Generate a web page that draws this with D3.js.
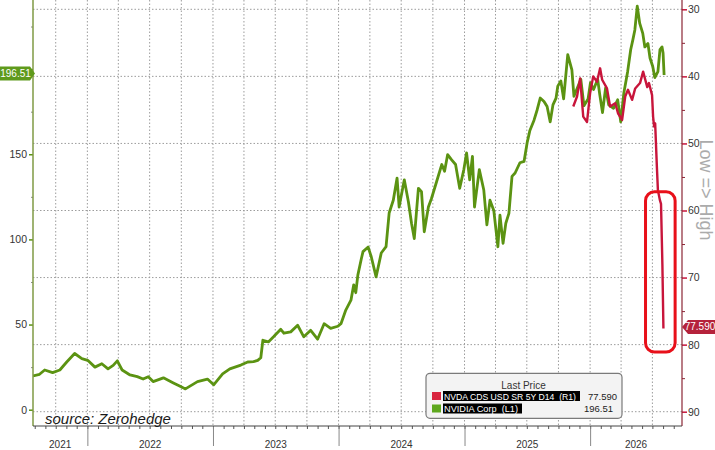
<!DOCTYPE html>
<html><head><meta charset="utf-8">
<script src="https://cdn.jsdelivr.net/npm/d3@7"></script>
<style>
body{margin:0;background:#fff}
svg{display:block}
text{font-family:"Liberation Sans",Arial,sans-serif}
</style>
</head><body>
<svg id="c" width="715" height="450"></svg>
<script>
// ---- data ----
const nvdaPrice = [
["2021-07-27",19.8],["2021-08-15",20.8],["2021-08-30",23.3],["2021-09-22",21.8],["2021-10-13",23.3],
["2021-11-02",28],["2021-11-25",33],["2021-12-16",30],["2022-01-02",29],["2022-01-23",25],
["2022-02-12",27],["2022-03-02",24],["2022-03-17",26],["2022-03-29",28.7],["2022-04-12",23.3],
["2022-05-05",20.4],["2022-05-26",19.4],["2022-06-12",18],["2022-06-27",19.4],["2022-07-11",16.5],
["2022-08-10",18.7],["2022-09-08",15.7],["2022-09-29",13.6],["2022-10-13",12.2],["2022-11-17",16.5],
["2022-12-16",18],["2023-01-03",14.6],["2023-01-29",21],["2023-02-19",24],["2023-03-23",26.2],
["2023-04-12",28],["2023-04-29",28.2],["2023-05-11",29],["2023-05-20",30.5],["2023-05-26",40.8],
["2023-06-11",39.8],["2023-06-26",42.8],["2023-07-17",47.2],["2023-07-26",44.9],["2023-08-15",45.7],
["2023-09-04",49.6],["2023-09-22",42.8],["2023-10-12",46.6],["2023-11-01",41.4],["2023-11-20",50.5],
["2023-12-09",47.8],["2023-12-30",49],["2024-01-08",50.5],["2024-01-22",58.5],["2024-02-06",64.3],
["2024-02-14",73.3],["2024-02-20",68.7],["2024-02-26",79],["2024-03-07",88.5],["2024-03-12",92.8],
["2024-03-27",95.5],["2024-04-05",89.8],["2024-04-19",78],["2024-05-04",92],["2024-05-18",95.7],
["2024-05-27",115.5],["2024-06-08",123],["2024-06-19",136],["2024-06-25",119],["2024-07-10",135],
["2024-07-22",122],["2024-07-31",109.5],["2024-08-08",100.5],["2024-08-20",130],["2024-08-29",128],
["2024-09-06",104.5],["2024-09-18",119],["2024-09-27",124],["2024-10-12",134],["2024-10-27",144],
["2024-11-04",140],["2024-11-13",149.8],["2024-11-24",146.8],["2024-12-06",144],["2024-12-18",130],
["2024-12-30",141],["2025-01-07",150.8],["2025-01-16",135],["2025-01-24",148.8],["2025-01-30",119],
["2025-02-13",141],["2025-02-26",129],["2025-03-07",108.5],["2025-03-16",123],["2025-03-27",117],
["2025-04-08",95.7],["2025-04-14",114.3],["2025-04-23",97.7],["2025-05-01",109.5],["2025-05-10",115.3],
["2025-05-19",137],["2025-05-28",139],["2025-06-11",145],["2025-06-23",145.8],["2025-07-02",156.8],
["2025-07-10",164],["2025-07-22",170],["2025-07-31",176],["2025-08-09",183],["2025-08-20",181],
["2025-08-29",178],["2025-09-07",169],["2025-09-15",179],["2025-09-24",183],["2025-09-29",190],
["2025-10-08",193],["2025-10-16",182.5],["2025-10-28",208.5],["2025-11-09",199.5],["2025-11-15",184],
["2025-11-26",189.5],["2025-12-05",194],["2025-12-14",178.5],["2025-12-26",182.5],["2026-01-02",192],
["2026-01-11",188],["2026-01-23",194],["2026-01-29",185],["2026-02-06",174.5],["2026-02-15",189],
["2026-02-24",179],["2026-03-10",177],["2026-03-22",182],["2026-03-31",169],["2026-04-09",186],
["2026-04-20",198.5],["2026-04-29",211.5],["2026-05-05",217],["2026-05-11",223],["2026-05-18",237],
["2026-05-25",227],["2026-06-03",221],["2026-06-09",213],["2026-06-18",215],["2026-06-24",206.5],
["2026-07-02",201.5],["2026-07-08",195],["2026-07-17",198.5],["2026-07-23",211.5],["2026-07-29",213],
["2026-08-01",209.5],["2026-08-04",196.51]
];
const nvdaCds = [
["2025-11-13",44.5],["2025-11-24",43],["2025-12-03",40.3],["2025-12-12",46],["2025-12-23",46.8],
["2026-01-01",42.5],["2026-01-10",40],["2026-01-21",40.8],["2026-01-30",38.8],["2026-02-05",40.5],
["2026-02-19",41.8],["2026-02-28",44.5],["2026-03-15",44],["2026-03-23",45.5],["2026-04-04",46.5],
["2026-04-13",43],["2026-04-21",42],["2026-05-03",43.5],["2026-05-12",41.8],["2026-05-26",41],
["2026-06-04",39.3],["2026-06-16",41.6],["2026-06-21",41],["2026-06-30",42.8],["2026-07-03",46],
["2026-07-06",47.5],["2026-07-09",47],["2026-07-14",53.5],["2026-07-17",57],["2026-07-23",58.5],
["2026-07-26",59],["2026-07-30",68],["2026-08-02",77.59]
];
const leftTicks = [0,50,100,150,200];
const leftTickLabels = ["0","50","100","150",""];   // 200 is hidden behind the last-price tag
const leftMinor = [25,75,125,175,225];
const rightTicks = [30,40,50,60,70,80,90];
const rightMinor = [35,45,55,65,75,85];
const dateStart = "2021-07-27", dateEnd = "2026-09-25";
const lastPrice = 196.51, lastCds = 77.59;
const lastPriceLabel = "196.51", lastCdsLabel = "77.590";
const legendTitle = "Last Price";
const legendNames = ["NVDA CDS USD SR 5Y D14  (R1)", "NVIDIA Corp  (L1)"];
const legendValues = ["77.590", "196.51"];
const sourceText = "source: Zerohedge";
const axisNote = "Low => High";
const boxDates = ["2026-06-11","2026-09-05"], boxCds = [57.2, 81.1];

// ---- layout ----
const L = 33, R = 682, T = 0, B = 426;
const green = "#5b9312", red = "#c8153b";
const parse = d3.timeParse("%Y-%m-%d");
const svg = d3.select("#c");
const x = d3.scaleTime().domain([parse(dateStart), parse(dateEnd)]).range([L, R]);
const yL = d3.scaleLinear().domain([0, 200]).range([409.7, 69.1]);
const yR = d3.scaleLinear().domain([30, 90]).range([9.3, 411.7]);

svg.append("clipPath").attr("id","clip").append("rect")
  .attr("x",L).attr("y",T).attr("width",R-L).attr("height",B-T);

// grid
const grid = svg.append("g").attr("stroke","#9c9c9c").attr("stroke-width",1).attr("stroke-dasharray","1.5,2");
grid.selectAll("line.h").data(rightTicks).join("line")
  .attr("x1",L).attr("x2",R).attr("y1",d=>yR(d)).attr("y2",d=>yR(d));
const quarters = d3.timeMonth.every(3).range(parse(dateStart), parse(dateEnd));
grid.selectAll("line.v").data(quarters).join("line")
  .attr("x1",d=>x(d)).attr("x2",d=>x(d)).attr("y1",T).attr("y2",B);

// lines
const lineL = d3.line().x(d=>x(parse(d[0]))).y(d=>yL(d[1]));
const lineR = d3.line().x(d=>x(parse(d[0]))).y(d=>yR(d[1]));
const plot = svg.append("g").attr("clip-path","url(#clip)");
plot.append("path").datum(nvdaPrice).attr("d",lineL).attr("fill","none")
  .attr("stroke",green).attr("stroke-width",2.8).attr("stroke-linejoin","round");
plot.append("path").datum(nvdaCds).attr("d",lineR).attr("fill","none")
  .attr("stroke",red).attr("stroke-width",2.4).attr("stroke-linejoin","round");

// red highlight box
svg.append("rect")
  .attr("x",x(parse(boxDates[0]))).attr("y",yR(boxCds[0]))
  .attr("width",x(parse(boxDates[1]))-x(parse(boxDates[0])))
  .attr("height",yR(boxCds[1])-yR(boxCds[0]))
  .attr("rx",9).attr("fill","none").attr("stroke","#e8101a").attr("stroke-width",3);

// left axis
const gL = svg.append("g").attr("transform",`translate(${L},0)`);
gL.call(d3.axisLeft(yL).tickValues(leftMinor).tickSize(2).tickFormat(""));
gL.selectAll("line").attr("stroke","#8a8a8a");
const gL2 = svg.append("g").attr("transform",`translate(${L},0)`);
gL2.call(d3.axisLeft(yL).tickValues(leftTicks).tickSize(4).tickPadding(2)
  .tickFormat((d,i)=>leftTickLabels[i]));
gL2.selectAll("line").attr("stroke",green).attr("stroke-width",1.5);
gL2.selectAll("text").attr("fill","#333").style("font-size","10.5px").style("font-family","Liberation Sans, Arial, sans-serif");
svg.selectAll(".domain").remove();
svg.append("line").attr("x1",L).attr("x2",L).attr("y1",T).attr("y2",B).attr("stroke","#7f9a45").attr("stroke-width",1.5);

// right axis
const gR = svg.append("g").attr("transform",`translate(${R},0)`);
gR.call(d3.axisRight(yR).tickValues(rightMinor).tickSize(3).tickFormat(""));
gR.selectAll("line").attr("stroke","#8b2535");
const gR2 = svg.append("g").attr("transform",`translate(${R},0)`);
gR2.call(d3.axisRight(yR).tickValues(rightTicks).tickSize(5).tickPadding(1));
gR2.selectAll("line").attr("stroke",red).attr("stroke-width",1.5);
gR2.selectAll("text").attr("fill","#333").style("font-size","10.5px").style("font-family","Liberation Sans, Arial, sans-serif");
svg.selectAll(".domain").remove();
svg.append("line").attr("x1",R).attr("x2",R).attr("y1",T).attr("y2",B).attr("stroke","#8b2535").attr("stroke-width",1.2);

// bottom axis
const gB = svg.append("g").attr("transform",`translate(0,${B})`);
gB.call(d3.axisBottom(x).ticks(d3.timeMonth.every(1)).tickSize(3).tickFormat(""));
gB.selectAll("line").attr("stroke","#555");
const years = d3.timeYear.range(parse("2022-01-01"), parse(dateEnd));
const gB2 = svg.append("g").attr("transform",`translate(0,${B})`);
gB2.call(d3.axisBottom(x).tickValues(years).tickSize(20).tickFormat(""));
gB2.selectAll("line").attr("stroke","#888");
svg.selectAll(".domain").remove();
svg.append("line").attr("x1",L).attr("x2",R).attr("y1",B).attr("y2",B).attr("stroke","#444").attr("stroke-width",1);
const yearStarts = d3.timeYear.range(d3.timeYear.floor(parse(dateStart)), parse(dateEnd));
svg.append("g").selectAll("text").data(yearStarts).join("text")
  .attr("x",d=>{const a=Math.max(x(d),L), b=Math.min(x(d3.timeYear.offset(d,1)),R); return (a+b)/2;})
  .attr("y",448).attr("text-anchor","middle").attr("fill","#333").style("font-size","10px")
  .text(d=>d3.timeFormat("%Y")(d));

// source
svg.append("text").attr("x",45).attr("y",424).style("font-size","15px").style("font-style","italic")
  .attr("fill","#1a1a1a").text(sourceText);

// Low => High
svg.append("text").attr("transform","translate(700,190) rotate(90)").attr("text-anchor","middle")
  .attr("fill","#ababab").style("font-size","18px").text(axisNote);

// legend
const lg = svg.append("g");
lg.append("rect").attr("x",426).attr("y",373.3).attr("width",196).attr("height",45).attr("rx",4)
  .attr("fill","#f3f3f3").attr("stroke","#7a7a7a").attr("stroke-width",1.2);
lg.append("text").attr("x",523.5).attr("y",389).attr("text-anchor","middle").attr("fill","#333")
  .style("font-size","10px").text(legendTitle);
const rowsY = [391, 403.5], sq = ["#d9253f", "#5ea81e"], barW = [137, 79], valX = [617, 613];
legendNames.forEach((n,i)=>{
  lg.append("rect").attr("x",432).attr("y",rowsY[i]+1).attr("width",9).attr("height",8).attr("fill",sq[i]);
  lg.append("rect").attr("x",443).attr("y",rowsY[i]).attr("width",barW[i]).attr("height",10).attr("fill","#000");
  lg.append("text").attr("x",444).attr("y",rowsY[i]+8.5).attr("fill","#fff").style("font-size","9px")
    .style("white-space","pre").attr("textLength",barW[i]-5).attr("lengthAdjust","spacingAndGlyphs").text(n);
  lg.append("text").attr("x",valX[i]).attr("y",rowsY[i]+8.5).attr("text-anchor","end").attr("fill","#222")
    .style("font-size","9.5px").text(legendValues[i]);
});

// value tags
const ty = yL(lastPrice) - 1.5;
svg.append("path").attr("d",`M0,${ty-7}H30L35,${ty}L30,${ty+7}H0Z`).attr("fill","#5f9a1c");
svg.append("text").attr("x",15.5).attr("y",ty+3.5).attr("text-anchor","middle").attr("fill","#fff")
  .style("font-size","10px").text(lastPriceLabel);
const ry = yR(lastCds) - 1.5;
svg.append("path").attr("d",`M715,${ry-7}H688L682,${ry}L688,${ry+7}H715Z`).attr("fill","#b5223b");
svg.append("text").attr("x",700).attr("y",ry+3.5).attr("text-anchor","middle").attr("fill","#fff")
  .style("font-size","10px").text(lastCdsLabel);
</script>
</body></html>
